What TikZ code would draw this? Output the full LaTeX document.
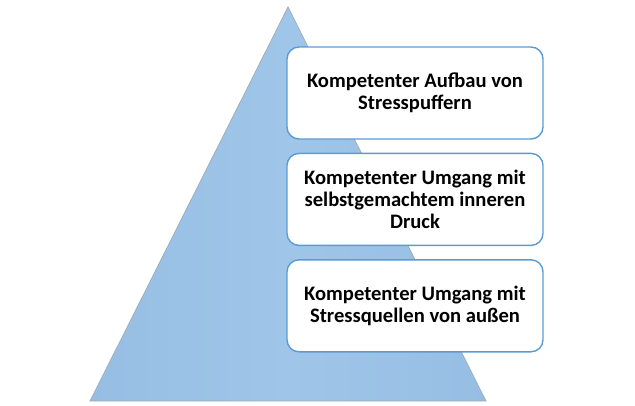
\documentclass[tikz,border=0pt]{standalone}
\usepackage{fontspec}
\setmainfont{Carlito}
\usepackage{tikz}
\usetikzlibrary{positioning}
\definecolor{pyrside}{RGB}{150,190,228}
\definecolor{pyrmid}{RGB}{159,198,232}
\definecolor{pyredge}{RGB}{160,170,180}
\definecolor{boxline}{RGB}{91,155,213}

\begin{document}
\begin{tikzpicture}[x=1pt,y=-1pt,
    levelbox/.style={draw=boxline, line width=1.4pt, fill=white, rounded corners=12pt,
      minimum width=256pt, minimum height=92pt, align=center,
      font=\fontsize{20.6}{22}\selectfont\bfseries, inner sep=0pt}]
            \useasboundingbox (0,0) rectangle (635,405);
            \coordinate (apex) at (288,7);
            \coordinate (baseL) at (90,401);
            \coordinate (baseR) at (486,401);
            \shade[left color=pyrside, right color=pyrside, middle color=pyrmid, draw=pyredge, line width=0.7pt]
              (apex) -- (baseR) -- (baseL) -- cycle;
            \node[levelbox] (aufbau) at (415,93) {Kompetenter Aufbau von\\Stresspuffern};
            \node[levelbox, below=13pt of aufbau] (druck) {Kompetenter Umgang mit\\selbstgemachtem inneren\\Druck};
            \node[levelbox, below=13pt of druck] (aussen) {Kompetenter Umgang mit\\Stressquellen von außen};
        \end{tikzpicture}
\end{document}
